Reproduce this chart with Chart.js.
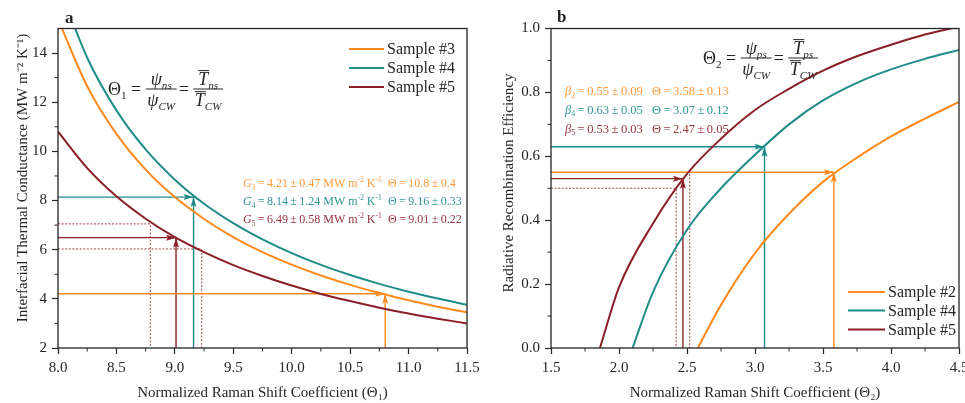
<!DOCTYPE html>
<html>
<head>
<meta charset="utf-8">
<script src="https://cdn.jsdelivr.net/npm/chart.js@4.4.1/dist/chart.umd.min.js"></script>
<style>
html, body { margin: 0; padding: 0; background: #fff; }
#wrap { position: relative; width: 965px; height: 403px; }
canvas { position: absolute; top: 0; }
#chartA { left: 0; }
#chartB { left: 480px; }
</style>
</head>
<body>
<div id="wrap">
  <canvas id="chartA" width="480" height="403"></canvas>
  <canvas id="chartB" width="485" height="403"></canvas>
</div>
<script>
// ---- panel a: thermal conductance vs normalized Raman shift (Θ1) ----
const thetaA = [8.0, 8.25, 8.5, 8.75, 9.0, 9.25, 9.5, 9.75, 10.0, 10.25, 10.5, 10.75, 11.0, 11.25, 11.5];
const g3 = [15.38, 12.65, 10.71, 9.26, 8.14, 7.25, 6.51, 5.90, 5.39, 4.95, 4.57, 4.24, 3.94, 3.68, 3.45];
const g4 = [16.84, 13.81, 11.67, 10.08, 8.85, 7.87, 7.08, 6.42, 5.86, 5.38, 4.97, 4.61, 4.29, 4.01, 3.76];
const g5 = [10.80, 9.32, 8.17, 7.26, 6.51, 5.90, 5.37, 4.93, 4.54, 4.20, 3.91, 3.64, 3.40, 3.19, 3.00];
const samplesA = ['3', '4', '5'];
const gMean = [4.21, 8.14, 6.49];
const gErr = [0.47, 1.24, 0.58];
const thetaMeanA = [10.8, 9.16, 9.01];
const thetaErrA = [0.4, 0.33, 0.22];
// sample #5 uncertainty box
const boundThetaA = [8.79, 9.23];
const boundGA = [7.05, 6.03];
const xTicksA = { min: 8, max: 11.5, step: 0.5, minor: 0.25 };
const yTicksA = { min: 2, max: 15, step: 2, minor: 1 };

// ---- panel b: recombination efficiency vs normalized Raman shift (Θ2) ----
const b2Theta = [2.58, 2.75, 3.0, 3.25, 3.5, 3.75, 4.0, 4.25, 4.5];
const b2Eff = [0, 0.135, 0.297, 0.42, 0.52, 0.596, 0.662, 0.718, 0.77];
const b4Theta = [2.1, 2.25, 2.5, 2.75, 3.0, 3.25, 3.5, 3.75, 4.0, 4.25, 4.5];
const b4Eff = [0, 0.175, 0.37, 0.50, 0.605, 0.70, 0.775, 0.83, 0.872, 0.905, 0.933];
const b5Theta = [1.86, 2.0, 2.25, 2.5, 2.75, 3.0, 3.25, 3.5, 3.75, 4.0, 4.25, 4.5];
const b5Eff = [0, 0.19, 0.39, 0.545, 0.655, 0.745, 0.811, 0.868, 0.913, 0.949, 0.981, 1.006];
const samplesB = ['2', '4', '5'];
const betaMean = [0.55, 0.63, 0.53];
const betaErr = [0.09, 0.05, 0.03];
const thetaMeanB = [3.58, 3.07, 2.47];
const thetaErrB = [0.13, 0.12, 0.05];
const boundThetaB = [2.42, 2.52];
const boundBetaB = [0.50, 0.55];
const xTicksB = { min: 1.5, max: 4.5, step: 0.5, minor: 0.25 };
const yTicksB = { min: 0, max: 1, step: 0.2, minor: 0.1 };

const ORANGE = '#ff8a1e';
const TEAL = '#1f8c88';
const MAROON = '#8b1f27';
const COLORS = [ORANGE, TEAL, MAROON];
const TEXT_COLORS = ['#ff9a3d', '#2f9692', '#96353c'];
const INK = '#262626';
const FONT = '"Liberation Serif", "Times New Roman", serif';
const TS = '\u2009'; // thin space used in the note lines

const pts = (xs, ys) => xs.map((x, i) => ({ x, y: ys[i] }));

function curve(label, xs, ys, color) {
  return {
    label, data: pts(xs, ys), borderColor: color, borderWidth: 2,
    pointRadius: 0, cubicInterpolationMode: 'monotone', legend: true
  };
}

function guide(data, color, opts) {
  return Object.assign({
    data, borderColor: color, borderWidth: 1.4, pointRadius: 0, tension: 0
  }, opts || {});
}

// reference arrows and dotted error box for one panel
function guides(xMin, yMin, thetaMean, yMean, bTheta, bY) {
  const out = [];
  thetaMean.forEach((t, i) => {
    out.push(guide([{ x: xMin, y: yMean[i] }, { x: t, y: yMean[i] }], COLORS[i], { arrow: true }));
    out.push(guide([{ x: t, y: yMin }, { x: t, y: yMean[i] }], COLORS[i], { arrow: true }));
  });
  bTheta.forEach((t, i) => {
    out.push(guide([{ x: xMin, y: bY[i] }, { x: t, y: bY[i] }, { x: t, y: yMin }], '#a8414a',
      { borderWidth: 1, borderDash: [2, 1.6] }));
  });
  return out;
}

// text made of runs: [text, style] where style may hold i / sub / sup
function drawRuns(ctx, x, y, runs, size, color) {
  ctx.fillStyle = color;
  ctx.textAlign = 'left';
  ctx.textBaseline = 'alphabetic';
  for (const [t, s] of runs) {
    const small = s.includes('sub') || s.includes('sup');
    const italic = s.startsWith('i');
    const fs = small ? size * 0.62 : size;
    ctx.font = (italic ? 'italic ' : '') + fs + 'px ' + FONT;
    const dy = s.includes('sub') ? size * 0.22 : s.includes('sup') ? -size * 0.4 : 0;
    ctx.fillText(t, x, y + dy);
    x += ctx.measureText(t).width;
  }
  return x;
}

function runsWidth(ctx, runs, size) {
  let w = 0;
  for (const [t, s] of runs) {
    const small = s.includes('sub') || s.includes('sup');
    ctx.font = (s.startsWith('i') ? 'italic ' : '') + (small ? size * 0.62 : size) + 'px ' + FONT;
    w += ctx.measureText(t).width;
  }
  return w;
}

function fraction(ctx, x, yBar, num, den, size, overbar) {
  const wn = runsWidth(ctx, num, size), wd = runsWidth(ctx, den, size);
  const w = Math.max(wn, wd) + 3;
  const xn = x + (w - wn) / 2, xd = x + (w - wd) / 2;
  drawRuns(ctx, xn, yBar - 4, num, size, INK);
  drawRuns(ctx, xd, yBar + size * 0.95, den, size, INK);
  ctx.strokeStyle = INK;
  ctx.lineWidth = 1;
  ctx.beginPath();
  ctx.moveTo(x, yBar); ctx.lineTo(x + w, yBar);
  if (overbar) {
    const tw = runsWidth(ctx, [num[0]], size);
    ctx.moveTo(xn, yBar - 4 - size * 0.8); ctx.lineTo(xn + tw + 1, yBar - 4 - size * 0.8);
    ctx.moveTo(xd, yBar + size * 0.95 - size * 0.8); ctx.lineTo(xd + tw + 1, yBar + size * 0.95 - size * 0.8);
  }
  ctx.stroke();
  return x + w;
}

function drawFormula(ctx, x, yBar, idx, top) {
  const size = 18;
  let cx = drawRuns(ctx, x, yBar + 6, [['Θ', ''], [idx, 'sub'], [' = ', '']], size, INK);
  cx = fraction(ctx, cx, yBar, [['ψ', 'i'], [top, 'isub']], [['ψ', 'i'], ['CW', 'isub']], size, false);
  cx = drawRuns(ctx, cx + 2, yBar + 6, [['= ', '']], size, INK);
  fraction(ctx, cx, yBar, [['T', 'i'], [top, 'isub']], [['T', 'i'], ['CW', 'isub']], size, true);
}

function drawLegend(ctx, chart, x0, x1, ys) {
  const items = chart.data.datasets.filter(d => d.legend);
  ctx.font = '16px ' + FONT;
  items.forEach((d, i) => {
    ctx.strokeStyle = d.borderColor;
    ctx.lineWidth = 2;
    ctx.beginPath();
    ctx.moveTo(x0, ys[i]); ctx.lineTo(x1, ys[i]);
    ctx.stroke();
    ctx.fillStyle = INK;
    ctx.textBaseline = 'middle';
    ctx.textAlign = 'left';
    ctx.fillText(d.label, x1 + 3, ys[i] + 1);
  });
}

// rotated y-axis title, centred on (x, y)
function drawYTitle(ctx, text, x, y) {
  ctx.save();
  ctx.translate(x, y);
  ctx.rotate(-Math.PI / 2);
  ctx.fillStyle = INK;
  ctx.font = '15px ' + FONT;
  ctx.textAlign = 'center';
  ctx.textBaseline = 'middle';
  ctx.fillText(text, 0, 0);
  ctx.restore();
}

// frame, minor ticks and arrow heads shared by both panels
const framePlugin = {
  id: 'frame',
  afterDatasetsDraw(chart) {
    const ctx = chart.ctx;
    chart.data.datasets.forEach((d, i) => {
      if (!d.arrow) return;
      const p = chart.getDatasetMeta(i).data;
      const a = p[p.length - 1], b = p[p.length - 2];
      const ang = Math.atan2(a.y - b.y, a.x - b.x);
      ctx.save();
      ctx.translate(a.x, a.y);
      ctx.rotate(ang);
      ctx.fillStyle = d.borderColor;
      ctx.beginPath();
      ctx.moveTo(0, 0); ctx.lineTo(-10, -3); ctx.lineTo(-8, 0); ctx.lineTo(-10, 3);
      ctx.closePath();
      ctx.fill();
      ctx.restore();
    });
  },
  afterDraw(chart, args, opts) {
    const { ctx, chartArea: a, scales } = chart;
    ctx.save();
    ctx.strokeStyle = INK;
    ctx.lineWidth = 1.3;
    ctx.strokeRect(a.left, a.top, a.right - a.left, a.bottom - a.top);
    ctx.lineWidth = 1;
    ctx.beginPath();
    const xs = scales.x, ys = scales.y;
    for (let i = 1; xs.min + i * opts.minorX < xs.max; i += 2) {
      const px = xs.getPixelForValue(xs.min + i * opts.minorX);
      ctx.moveTo(px, a.bottom); ctx.lineTo(px, a.bottom + 3.5);
    }
    for (let i = 1; ys.min + i * opts.minorY < ys.max; i += 2) {
      const py = ys.getPixelForValue(ys.min + i * opts.minorY);
      ctx.moveTo(a.left, py); ctx.lineTo(a.left - 3.5, py);
    }
    ctx.stroke();
    if (opts.decorate) opts.decorate(ctx, chart);
    ctx.restore();
  }
};

function scaleOpts(t, title, fitSize, horizontal, fmt) {
  return {
    type: 'linear', min: t.min, max: t.max,
    ticks: {
      stepSize: t.step, includeBounds: false, autoSkip: false, maxRotation: 0,
      color: INK, font: { family: FONT, size: 15 }, padding: 5,
      callback: fmt
    },
    grid: { drawOnChartArea: false, tickLength: 6, tickColor: INK, tickWidth: 1.2 },
    border: { display: false },
    title: {
      display: horizontal, text: title, color: INK,
      font: { family: FONT, size: 15 }, padding: { top: 0, bottom: 1 }
    },
    afterFit(s) {
      if (horizontal) s.height = fitSize; else s.width = fitSize;
      s.paddingLeft = 0; s.paddingRight = 0; s.paddingTop = 0; s.paddingBottom = 0;
    }
  };
}

function makeChart(id, datasets, xs, ys, layout, decorate) {
  return new Chart(document.getElementById(id), {
    type: 'line',
    data: { datasets },
    options: {
      responsive: false, animation: false, devicePixelRatio: 1, events: [],
      layout: { padding: layout.padding },
      plugins: {
        legend: { display: false }, tooltip: { enabled: false },
        frame: { minorX: layout.minorX, minorY: layout.minorY, decorate }
      },
      scales: { x: xs, y: ys }
    },
    plugins: [framePlugin]
  });
}

// panel a
makeChart('chartA',
  [
    curve('Sample #' + samplesA[0], thetaA, g3, ORANGE),
    curve('Sample #' + samplesA[1], thetaA, g4, TEAL),
    curve('Sample #' + samplesA[2], thetaA, g5, MAROON),
    ...guides(xTicksA.min, yTicksA.min, thetaMeanA, gMean, boundThetaA, boundGA)
  ],
  scaleOpts(xTicksA, 'Normalized Raman Shift Coefficient (Θ\u2081)', 55, true, v => v.toFixed(1)),
  scaleOpts(yTicksA, '', 58, false, v => String(v)),
  { padding: { top: 28.5, right: 13, left: 0, bottom: 0 }, minorX: xTicksA.minor, minorY: yTicksA.minor },
  (ctx, chart) => {
    drawYTitle(ctx, 'Interfacial Thermal Conductance (MW m\u207B\u00B2 K\u207B\u00B9)', 23, 178);
    ctx.fillStyle = INK;
    ctx.font = 'bold 17px ' + FONT;
    ctx.textBaseline = 'alphabetic';
    ctx.fillText('a', 65, 23);
    drawFormula(ctx, 108, 89, '1', 'ns');
    drawLegend(ctx, chart, 349, 384, [49, 68, 87]);
    [187, 205, 223].forEach((y, i) => {
      drawRuns(ctx, 243, y, [['G', 'i'], [samplesA[i], 'sub'],
        [TS + '=' + TS + gMean[i] + TS + '±' + TS + gErr[i] + ' MW m', ''], ['-2', 'sup'], [' K', ''], ['-1', 'sup']],
        12, TEXT_COLORS[i]);
      drawRuns(ctx, 388, y, [['Θ' + TS + '=' + TS + thetaMeanA[i] + TS + '±' + TS + thetaErrA[i], '']], 12, TEXT_COLORS[i]);
    });
  });

// panel b
makeChart('chartB',
  [
    curve('Sample #' + samplesB[0], b2Theta, b2Eff, ORANGE),
    curve('Sample #' + samplesB[1], b4Theta, b4Eff, TEAL),
    curve('Sample #' + samplesB[2], b5Theta, b5Eff, MAROON),
    ...guides(xTicksB.min, yTicksB.min, thetaMeanB, betaMean, boundThetaB, boundBetaB)
  ],
  scaleOpts(xTicksB, 'Normalized Raman Shift Coefficient (Θ\u2082)', 55, true, v => v.toFixed(1)),
  scaleOpts(yTicksB, '', 71, false, v => v.toFixed(1)),
  { padding: { top: 28.5, right: 6, left: 0, bottom: 0 }, minorX: xTicksB.minor, minorY: yTicksB.minor },
  (ctx, chart) => {
    drawYTitle(ctx, 'Radiative Recombination Efficiency', 29, 183);
    ctx.fillStyle = INK;
    ctx.font = 'bold 17px ' + FONT;
    ctx.textBaseline = 'alphabetic';
    ctx.fillText('b', 77, 22);
    drawFormula(ctx, 223, 58, '2', 'ps');
    drawLegend(ctx, chart, 368, 405, [292, 310.5, 329.5]);
    [95, 113.5, 132.5].forEach((y, i) => {
      drawRuns(ctx, 85, y, [['β', 'i'], [samplesB[i], 'sub'],
        [TS + '=' + TS + betaMean[i] + TS + '±' + TS + betaErr[i], '']], 12.5, TEXT_COLORS[i]);
      drawRuns(ctx, 172, y, [['Θ' + TS + '=' + TS + thetaMeanB[i] + TS + '±' + TS + thetaErrB[i], '']], 12.5, TEXT_COLORS[i]);
    });
  });
</script>
</body>
</html>
